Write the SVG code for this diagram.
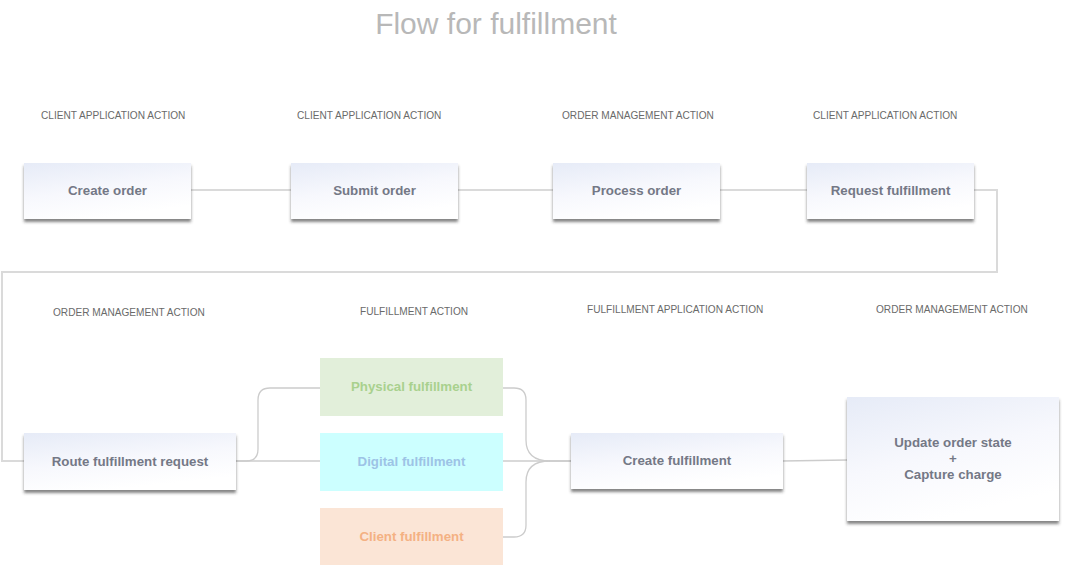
<svg xmlns="http://www.w3.org/2000/svg" width="1067" height="566" viewBox="0 0 1067 566">
<defs>
<linearGradient id="g" x1="0" y1="0" x2="0.4" y2="1">
<stop offset="0" stop-color="#e6ebf7"/>
<stop offset="0.55" stop-color="#f7f8fd"/>
<stop offset="1" stop-color="#ffffff"/>
</linearGradient>
<filter id="sh" x="-10%" y="-20%" width="120%" height="150%">
<feDropShadow dx="0" dy="3" stdDeviation="1.5" flood-color="#333" flood-opacity="0.6"/>
</filter>
<style>
.box{fill:url(#g);filter:url(#sh);}
.t{font-family:"Liberation Sans",Arial,sans-serif;font-size:13.3px;font-weight:bold;fill:#747886;text-anchor:middle;}
.lab{font-family:"Liberation Sans",Arial,sans-serif;font-size:10.1px;fill:#6a6a6a;}
.c1{fill:none;stroke:#dadada;stroke-width:2;}
.c2{fill:none;stroke:#cccccc;stroke-width:1.3;}
</style>
</defs>
<rect width="1067" height="566" fill="#ffffff"/>
<text x="496" y="34" font-family="'Liberation Sans',Arial,sans-serif" font-size="30" fill="#b8b8b8" text-anchor="middle">Flow for fulfillment</text>
<g id="labels">
<text class="lab" x="41" y="119">CLIENT APPLICATION ACTION</text>
<text class="lab" x="297" y="119">CLIENT APPLICATION ACTION</text>
<text class="lab" x="562" y="119">ORDER MANAGEMENT ACTION</text>
<text class="lab" x="813" y="119">CLIENT APPLICATION ACTION</text>
<text class="lab" x="53" y="316">ORDER MANAGEMENT ACTION</text>
<text class="lab" x="360" y="315">FULFILLMENT ACTION</text>
<text class="lab" x="587" y="313">FULFILLMENT APPLICATION ACTION</text>
<text class="lab" x="876" y="313">ORDER MANAGEMENT ACTION</text>
</g>
<g id="connectors">
<path class="c1" d="M191 190H291"/>
<path class="c1" d="M458 190H553"/>
<path class="c1" d="M720 190H807"/>
<path class="c1" d="M974 190H997V272H2V461H24"/>
<path class="c2" d="M236 461H320"/>
<path class="c2" d="M236 461H246Q258 461 258 449V400Q258 388 270 388H320"/>
<path class="c2" d="M503 461H571"/>
<path class="c2" d="M503 388H514Q526 388 526 400V440Q526 461 550 461H571"/>
<path class="c2" d="M503 537H514Q526 537 526 525V482Q526 461 550 461"/>
<path class="c2" d="M783 461L847 460"/>
</g>
<g id="create-order"><rect class="box" x="24" y="163" width="167" height="56"/><text class="t" x="107.5" y="195">Create order</text></g>
<g id="submit-order"><rect class="box" x="291" y="163" width="167" height="56"/><text class="t" x="374.5" y="195">Submit order</text></g>
<g id="process-order"><rect class="box" x="553" y="163" width="167" height="56"/><text class="t" x="636.5" y="195">Process order</text></g>
<g id="request-fulfillment"><rect class="box" x="807" y="163" width="167" height="56"/><text class="t" x="890.5" y="195">Request fulfillment</text></g>
<g id="route-fulfillment"><rect class="box" x="24" y="433" width="212" height="57"/><text class="t" x="130" y="466">Route fulfillment request</text></g>
<g id="physical"><rect x="320" y="358" width="183" height="58" fill="#e2efda"/><text class="t" x="411.5" y="391" style="fill:#a9d18e">Physical fulfillment</text></g>
<g id="digital"><rect x="320" y="433" width="183" height="58" fill="#ccffff"/><text class="t" x="411.5" y="466" style="fill:#9dc3e6">Digital fulfillment</text></g>
<g id="client"><rect x="320" y="508" width="183" height="57" fill="#fbe5d6"/><text class="t" x="411.5" y="541" style="fill:#f4b183">Client fulfillment</text></g>
<g id="create-fulfillment"><rect class="box" x="571" y="433" width="212" height="56"/><text class="t" x="677" y="465">Create fulfillment</text></g>
<g id="update-order"><rect class="box" x="847" y="397" width="212" height="124"/><text class="t" x="953" y="447">Update order state</text><text class="t" x="953" y="463">+</text><text class="t" x="953" y="479">Capture charge</text></g>
</svg>
